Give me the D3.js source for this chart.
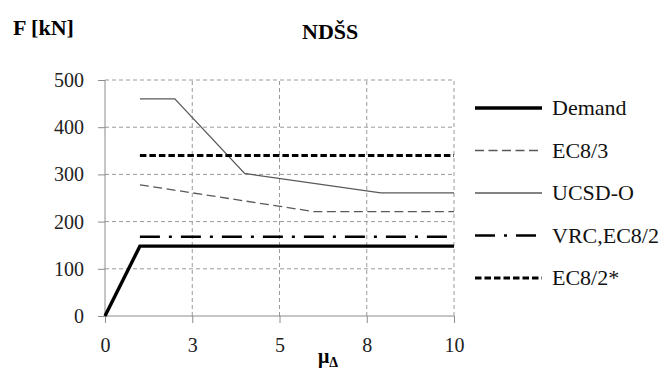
<!DOCTYPE html>
<html><head><meta charset="utf-8">
<script src="https://cdn.jsdelivr.net/npm/d3@7"></script>
<style>html,body{margin:0;padding:0;background:#fff;}svg{display:block;}svg text{font-family:"Liberation Serif","Times New Roman",serif;}</style>
</head><body>
<svg id="c" width="668" height="372"></svg>
<script>
const xTicks = [0, 2.5, 5, 7.5, 10];
const xTickLabels = ["0", "3", "5", "8", "10"];
const yTicks = [0, 100, 200, 300, 400, 500];

const seriesNames = ["Demand", "EC8/3", "UCSD-O", "VRC,EC8/2", "EC8/2*"];
const demandX = [0, 1, 10];
const demandY = [0, 148, 148];
const ec83X = [1, 6, 10];
const ec83Y = [278, 221, 221];
const ucsdX = [1, 2, 4, 7.9, 10];
const ucsdY = [460, 460, 302, 261, 261];
const vrcX = [1, 10];
const vrcY = [168, 168];
const ec82X = [1, 10];
const ec82Y = [340, 340];

const FONT = "'Liberation Serif', 'Times New Roman', serif";
const styles = [
  {color: "#000", width: 3.4, dash: null},
  {color: "#595959", width: 1.3, dash: "9,4.5"},
  {color: "#595959", width: 1.3, dash: null},
  {color: "#000", width: 2.6, dash: "20,9,3,9"},
  {color: "#000", width: 3, dash: "6.5,3"}
];
const seriesX = [demandX, ec83X, ucsdX, vrcX, ec82X];
const seriesY = [demandY, ec83Y, ucsdY, vrcY, ec82Y];

const svg = d3.select("#c");
const x = d3.scaleLinear().domain([0, 10]).range([105, 454]);
const y = d3.scaleLinear().domain([0, 500]).range([316, 80]);

// gridlines
const grid = svg.append("g");
grid.selectAll("line.h").data(yTicks.filter(d => d > 0)).join("line")
  .attr("x1", x(0)).attr("x2", x(10)).attr("y1", d => y(d)).attr("y2", d => y(d))
  .attr("stroke", "#9a9a9a").attr("stroke-width", 1).attr("stroke-dasharray", "4,3");
grid.selectAll("line.v").data(xTicks.filter(d => d > 0)).join("line")
  .attr("y1", y(0)).attr("y2", y(500)).attr("x1", d => x(d)).attr("x2", d => x(d))
  .attr("stroke", "#9a9a9a").attr("stroke-width", 1).attr("stroke-dasharray", "4,3");

// axes
const yAxis = d3.axisLeft(y).tickValues(yTicks).tickSize(7).tickPadding(14).tickFormat(d3.format("d"));
const gy = svg.append("g").attr("transform", `translate(${x(0)},0)`).call(yAxis);
const xAxis = d3.axisBottom(x).tickValues(xTicks).tickSize(7).tickPadding(15).tickFormat((d, i) => xTickLabels[i]);
const gx = svg.append("g").attr("transform", `translate(0,${y(0)})`).call(xAxis);
[gx, gy].forEach(g => {
  g.attr("font-family", null);
  g.selectAll(".tick line").attr("stroke", "#8c8c8c");
  g.selectAll("text").style("font-family", FONT).style("font-size", "20px").attr("fill", "#222");
});
gy.select(".domain").attr("stroke", "#8c8c8c").attr("d", `M0,${y(0)}V${y(500)}`);
gx.select(".domain").attr("stroke", "#8c8c8c").attr("d", `M${x(0)},0H${x(10)}`);

// series
const line = d3.line().x(d => x(d[0])).y(d => y(d[1]));
seriesX.forEach((xs, i) => {
  const pts = xs.map((v, j) => [v, seriesY[i][j]]);
  const p = svg.append("path").datum(pts).attr("d", line)
    .attr("fill", "none").attr("stroke", styles[i].color).attr("stroke-width", styles[i].width)
    .attr("stroke-linejoin", "miter");
  if (styles[i].dash) p.attr("stroke-dasharray", styles[i].dash);
});

// legend
const leg = svg.append("g");
const rowY = d3.scalePoint().domain(seriesNames).range([108, 278]);
seriesNames.forEach((n, i) => {
  const yy = rowY(n);
  const l = leg.append("line").attr("x1", 475).attr("x2", 542).attr("y1", yy).attr("y2", yy)
    .attr("stroke", styles[i].color).attr("stroke-width", styles[i].width);
  if (styles[i].dash) l.attr("stroke-dasharray", styles[i].dash);
  leg.append("text").attr("x", 552).attr("y", yy + 7).style("font-family", FONT).style("font-size", "22px")
    .attr("fill", "#111").text(n);
});

// titles
svg.append("text").attr("x", 13).attr("y", 35).style("font-family", FONT).style("font-size", "22px")
  .style("font-weight", "bold").text("F [kN]");
svg.append("text").attr("x", 302).attr("y", 39).style("font-family", FONT).style("font-size", "22px")
  .style("font-weight", "bold").text("NDŠS");
const xt = svg.append("text").attr("x", 318).attr("y", 363).style("font-family", FONT)
  .style("font-size", "20px").style("font-weight", "bold");
xt.append("tspan").text("μ");
xt.append("tspan").style("font-size", "14px").attr("dy", 4).text("Δ");
</script>
</body></html>
